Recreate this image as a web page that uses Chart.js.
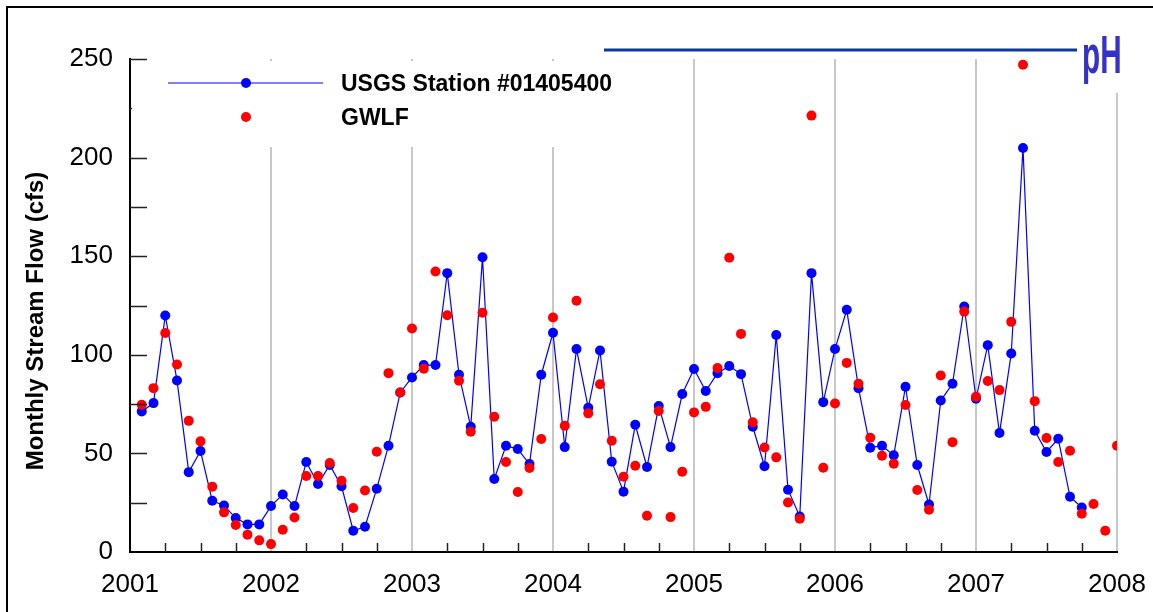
<!DOCTYPE html>
<html><head><meta charset="utf-8">
<script src="https://cdn.jsdelivr.net/npm/chart.js@4.4.0/dist/chart.umd.min.js"></script>
<style>html,body{margin:0;padding:0;background:#fff}canvas{display:block}</style>
</head><body>
<canvas id="c" width="1153" height="612"></canvas>
<script>
// ---- data ----
const years = [2001, 2002, 2003, 2004, 2005, 2006, 2007];
const xTickLabels = ['2001','2002','2003','2004','2005','2006','2007','2008'];
const yTickLabels = ['0','50','100','150','200','250'];
const seriesNames = ['USGS Station #01405400', 'GWLF'];
const yTitle = 'Monthly Stream Flow (cfs)';

const usgsFlow = [
  71.3, 75.5, 119.9, 87.0, 40.5, 51.2, 26.0, 23.6, 17.2, 14.0, 14.0, 23.3,
  29.2, 23.3, 45.6, 34.5, 44.1, 33.3, 10.8, 12.8, 32.1, 53.9, 80.9, 88.5,
  94.8, 94.8, 141.4, 89.9, 63.5, 149.5, 37.0, 53.9, 52.2, 44.6, 89.9, 111.2,
  53.2, 102.9, 73.1, 102.2, 45.8, 30.6, 64.5, 43.1, 74.0, 53.2, 80.1, 92.8,
  81.6, 90.7, 94.3, 90.2, 63.5, 43.5, 110.0, 31.6, 18.0, 141.4, 76.0, 102.9,
  122.8, 83.1, 52.9, 53.9, 49.0, 83.8, 44.1, 24.1, 76.8, 85.3, 124.5, 77.7,
  104.9, 60.3, 100.7, 204.9, 61.5, 50.7, 57.4, 28.0, 22.6, null, null, null
];
const gwlfFlow = [
  74.7, 83.1, 111.1, 95.1, 66.5, 56.1, 33.1, 20.1, 13.7, 8.8, 5.9, 4.0,
  11.3, 17.5, 38.5, 38.5, 45.1, 36.1, 22.3, 31.2, 50.8, 90.7, 80.9, 113.3,
  92.9, 142.2, 120.1, 86.8, 61.0, 121.3, 68.6, 45.6, 30.4, 42.6, 57.3, 118.9,
  64.0, 127.4, 70.3, 85.1, 56.4, 38.2, 43.7, 18.4, 71.5, 17.7, 40.7, 70.8,
  73.6, 93.3, 149.2, 110.6, 65.8, 53.0, 48.0, 25.1, 16.9, 221.3, 42.7, 75.3,
  95.9, 85.3, 57.9, 48.8, 44.8, 74.5, 31.4, 21.4, 89.5, 55.7, 121.9, 78.7,
  86.7, 82.1, 116.7, 247.1, 76.5, 57.8, 45.6, 51.3, 19.4, 24.3, 10.8, 53.9
];

// month categories (YYYY-MM), plotted at month end
const months = [];
years.forEach(y => { for (let m = 1; m <= 12; m++) months.push(y + '-' + String(m).padStart(2,'0')); });
function monthPos(label){ const p = label.split('-').map(Number); return p[0] + p[1]/12; }
const toPoints = vals => months.map((mo,i) => ({x: monthPos(mo), y: vals[i]}));

const FONT = "'Liberation Sans', Arial, Helvetica, sans-serif";
const BLUE = '#0000ff', RED = '#ff0000';

const decor = {
  id: 'decor',
  beforeDraw(chart){
    const ctx = chart.ctx; ctx.save(); ctx.fillStyle = '#fff';
    ctx.fillRect(0,0,chart.width,chart.height); ctx.restore();
  },
  afterDraw(chart){
    const ctx = chart.ctx, xs = chart.scales.x, ys = chart.scales.y;
    const L = chart.chartArea.left, B = chart.chartArea.bottom;
    ctx.save();
    // inward ticks
    ctx.strokeStyle = '#222'; ctx.lineWidth = 1.5;
    for (let v = 25; v <= 250; v += 25){
      const py = Math.round(ys.getPixelForValue(v)) + 0.5;
      ctx.beginPath(); ctx.moveTo(L, py); ctx.lineTo(L + 17, py); ctx.stroke();
    }
    for (const y of years){
      for (let q = 1; q <= 3; q++){
        const px = Math.round(xs.getPixelForValue(y + q/4)) + 0.5;
        ctx.beginPath(); ctx.moveTo(px, B); ctx.lineTo(px, B - 9); ctx.stroke();
      }
    }
    // legend
    ctx.fillStyle = '#fff'; ctx.fillRect(132, 61, 510, 86);
    ctx.strokeStyle = BLUE; ctx.lineWidth = 1.2;
    ctx.beginPath(); ctx.moveTo(168, 83); ctx.lineTo(323, 83); ctx.stroke();
    ctx.fillStyle = BLUE; ctx.beginPath(); ctx.arc(246, 83, 5, 0, Math.PI*2); ctx.fill();
    ctx.fillStyle = RED; ctx.beginPath(); ctx.arc(246, 117, 5, 0, Math.PI*2); ctx.fill();
    ctx.fillStyle = '#000'; ctx.font = 'bold 23px ' + FONT; ctx.textBaseline = 'middle'; ctx.textAlign = 'left';
    ctx.fillText(seriesNames[0], 341, 85);
    ctx.fillText(seriesNames[1], 341, 119);
    // y title
    ctx.save(); ctx.translate(36, 321); ctx.rotate(-Math.PI/2);
    ctx.font = 'bold 24px ' + FONT; ctx.textAlign = 'center'; ctx.textBaseline = 'middle';
    ctx.fillText(yTitle, 0, 0); ctx.restore();
    // logo
    ctx.strokeStyle = '#0b3a9e'; ctx.lineWidth = 3;
    ctx.beginPath(); ctx.moveTo(604, 50); ctx.lineTo(1077, 50); ctx.stroke();
    ctx.fillStyle = '#fff'; ctx.fillRect(1079, 28, 50, 65);
    ctx.save(); ctx.translate(1082, 73); ctx.scale(0.55, 1);
    ctx.fillStyle = '#3333cc'; ctx.font = 'bold 54px ' + FONT; ctx.textBaseline = 'alphabetic'; ctx.textAlign = 'left';
    ctx.fillText('pH', 0, 0); ctx.restore();
    // frame
    ctx.fillStyle = '#000'; ctx.fillRect(6, 6, chart.width - 6, 2); ctx.fillRect(6, 6, 2, chart.height - 6);
    ctx.restore();
  }
};

new Chart(document.getElementById('c'), {
  type: 'scatter',
  data: {
    datasets: [
      { label: seriesNames[1], data: toPoints(gwlfFlow), showLine: false,
        pointRadius: 5, pointHoverRadius: 5, pointBackgroundColor: RED, pointBorderWidth: 0, borderColor: RED, backgroundColor: RED },
      { label: seriesNames[0], data: toPoints(usgsFlow), showLine: true, spanGaps: false,
        borderColor: BLUE, borderWidth: 1.2, pointRadius: 5, pointHoverRadius: 5,
        pointBackgroundColor: BLUE, pointBorderWidth: 0, backgroundColor: BLUE, tension: 0 }
    ]
  },
  options: {
    responsive: false, animation: false, devicePixelRatio: 1,
    layout: { padding: { top: 59, right: 36, left: 0, bottom: 0 } },
    plugins: { legend: { display: false }, tooltip: { enabled: false } },
    scales: {
      x: {
        type: 'linear', min: 2001, max: 2008,
        afterFit(s){ s.height = 60; s.paddingLeft = 0; s.paddingRight = 0; },
        afterBuildTicks(s){ s.ticks = xTickLabels.map(t => ({ value: Number(t) })); },
        ticks: { stepSize: 1, padding: 17, color: '#000', font: { family: FONT, size: 26 },
                 callback: (v, i) => xTickLabels[i], maxRotation: 0, autoSkip: false },
        grid: { color: '#c8c8c8', lineWidth: 2, drawTicks: false },
        border: { display: true, color: '#000', width: 2 }
      },
      y: {
        min: 0, max: 250,
        afterFit(s){ s.width = 130; s.paddingTop = 0; s.paddingBottom = 0; },
        afterBuildTicks(s){ s.ticks = yTickLabels.map(t => ({ value: Number(t) })); },
        ticks: { stepSize: 50, padding: 17, color: '#000', font: { family: FONT, size: 26 },
                 callback: (v, i) => yTickLabels[i] },
        grid: { display: false, drawTicks: false },
        border: { display: true, color: '#000', width: 2 }
      }
    }
  },
  plugins: [decor]
});
</script>
</body></html>
